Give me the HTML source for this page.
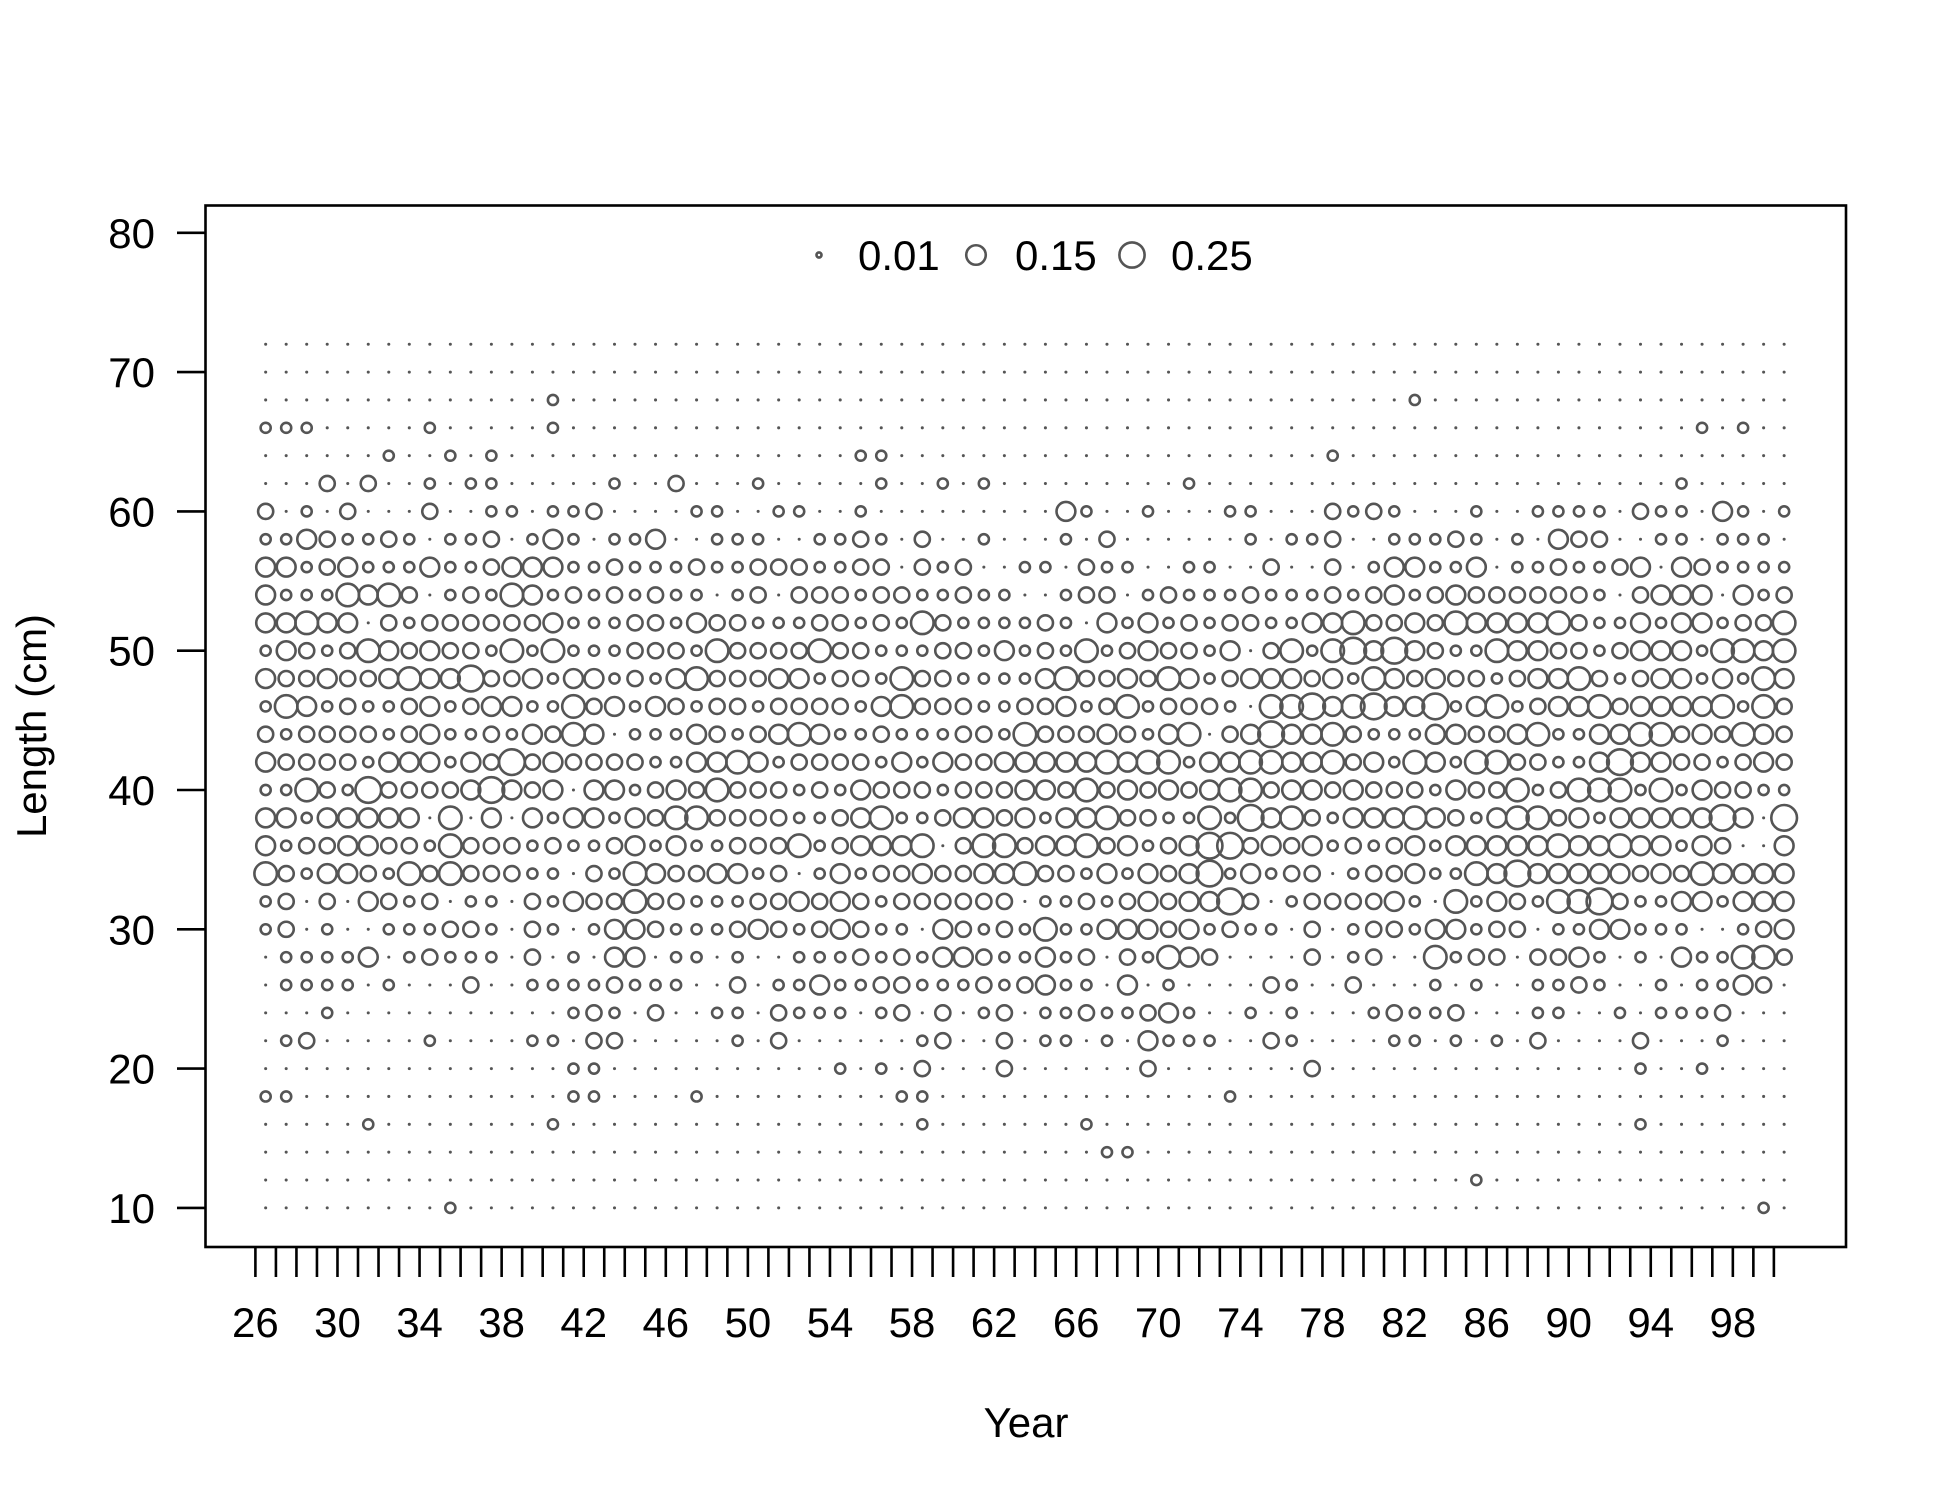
<!DOCTYPE html>
<html>
<head>
<meta charset="utf-8">
<style>
html,body{margin:0;padding:0;background:#fff;}
svg{display:block;font-family:"Liberation Sans",Arial,sans-serif;}
</style>
</head>
<body>
<svg id="chart" width="1950" height="1500" viewBox="0 0 1950 1500" xmlns="http://www.w3.org/2000/svg">
  <rect x="0" y="0" width="1950" height="1500" fill="#fff"/>
  <rect x="205.5" y="205.5" width="1640.5" height="1041.5" fill="none" stroke="#000" stroke-width="2.6"/>
  <g id="yaxis"></g>
  <g id="xaxis"></g>
  <g id="bubbles"></g>
  <g id="legend"></g>
  <text x="0" y="0" transform="translate(46,726) rotate(-90)" text-anchor="middle" font-size="42">Length (cm)</text>
  <text x="1026" y="1437" text-anchor="middle" font-size="42">Year</text>
</svg>
<script>
// ---- data ----
const years = [];
for (let y = 26; y <= 100; y++) years.push(y);
const lengths = [72,70,68,66,64,62,60,58,56,54,52,50,48,46,44,42,40,38,36,34,32,30,28,26,24,22,20,18,16,14,12,10];
const levelValues = [0.002, 0.04, 0.09, 0.14, 0.2, 0.26];
const yTicks = [10,20,30,40,50,60,70,80];
const xTickLabels = [26,30,34,38,42,46,50,54,58,62,66,70,74,78,82,86,90,94,98];
const legendValues = [0.01, 0.15, 0.25];
const legendLabels = ["0.01","0.15","0.25"];
const Z19 = "0000000000000000000", Z18 = "000000000000000000";
const rowCodes = [
  Z19+Z19+Z19+Z18,
  Z19+Z19+Z19+Z18,
  "0000000000000010000"+Z19+"0000000000000000001"+Z18,
  "1110000010000010000"+Z19+Z19+"000000000000010100",
  "0000001001010000000"+"0000000000110000000"+"0000000000000010000"+Z18,
  "0002020010110000010"+"0200010000010010100"+"0000000100000000000"+"000000000000100000",
  "2010200020011011200"+"0011001100100000000"+"0310010001100021210"+"001001111021103101",
  "1132112101120131011"+"3001110011210200100"+"0102000000101120011"+"121010322001101110",
  "3312311131123331121"+"1121122211220212001"+"1021100110020020133"+"113011211230321111",
  "3111434201214312121"+"2110120222122112110"+"0122012111211121231"+"232222221023330312",
  "3343302122222231112"+"2132211122121421111"+"2103131212211334223"+"243333421131331224",
  "1321243232214141112"+"2214222242211122131"+"2141232213024145353"+"211433221233314434",
  "3223223433522313312"+"1342223312214221111"+"3422324312333231432"+"322123342123313143",
  "1431211231233114231"+"3212212222134222112"+"2312412221044534533"+"513412334233334142",
  "2122221231121324301"+"1132123431121112214"+"2223213402353342111"+"332234113344232432",
  "3222213331325232222"+"1133431222213132233"+"3334344133443342314"+"314422113533221232",
  "1142152222353230331"+"2324222121322212223"+"3242323234423323222"+"132241244414132211",
  "3313333304030313313"+"2442222112341123323"+"1334221141534213334"+"321344231333335305",
  "3122332214222121123"+"1311222412333402442"+"3342312355232312123"+"133333433433132003",
  "4213321424222110214"+"3223312013122322334"+"2213132351312201223"+"114353333323243333",
  "1202032120110213224"+"2211122323212222220"+"1121232335201222231"+"041321445211331333",
  "1201001112210210133"+"2111232123211032121"+"4113332312110201221"+"331220113311100123",
  "0111130121110201033"+"0110100111212133211"+"3120214320000201200"+"412202231010311442",
  "0111101000200111121"+"1100201131122111212"+"3110301000021002000"+"101001121001011320",
  "0001000000000001210"+"2001102111012020120"+"1121123100101000121"+"120001100101112000",
  "0120000010000110220"+"0000102000000120020"+"1101031110021000011"+"010102000020001000",
  "0000000000000001100"+"0000000001010200020"+"0000020000000200000"+"000000000010010000",
  "1100000000000001100"+"0010000000001100000"+"0000000001000000000"+Z18,
  "0000010000000010000"+"0000000000000100000"+"0010000000000000000"+"000000000010000000",
  Z19+Z19+"0001100000000000000"+Z18,
  Z19+Z19+Z19+"001000000000000000",
  "0000000001000000000"+Z19+Z19+"000000000000000010"
];

// ---- scales ----
const NS = "http://www.w3.org/2000/svg";
function xScale(year){ return 255.4 + (year - 26) * 20.52; }
function yScale(len){ return 232.8 + (80 - len) * 13.93; }
function rScale(v){ return 25.2 * Math.sqrt(v); }
function mk(tag, attrs, parent){
  const e = document.createElementNS(NS, tag);
  for (const k in attrs) e.setAttribute(k, attrs[k]);
  parent.appendChild(e);
  return e;
}

// ---- y axis ----
const yaxis = document.getElementById('yaxis');
yTicks.forEach(v => {
  const t = mk('line', {x1:177, x2:205.5, y1:yScale(v), y2:yScale(v), stroke:'#000', 'stroke-width':2.6}, yaxis);
  
  
  const lb = mk('text', {x:155, y:yScale(v)+15, 'text-anchor':'end', 'font-size':42}, yaxis);
  lb.textContent = String(v);
  
  
});

// ---- x axis ----
const xaxis = document.getElementById('xaxis');
years.forEach(y => {
  const t = mk('line', {x1:xScale(y), x2:xScale(y), y1:1247, y2:1277, stroke:'#000', 'stroke-width':2.6}, xaxis);
  
  
});
xTickLabels.forEach(y => {
  const lb = mk('text', {x:xScale(y), y:1337, 'text-anchor':'middle', 'font-size':42}, xaxis);
  lb.textContent = String(y);
  
  
});

// ---- bubbles ----
const bubbles = document.getElementById('bubbles');
lengths.forEach((len, ri) => {
  const codes = (rowCodes[ri] || '').padEnd(years.length, '0');
  years.forEach((yr, ci) => {
    const lvl = parseInt(codes[ci], 10) || 0;
    const v = levelValues[lvl];
    const r = rScale(v);
    const c = mk('circle', {cx:xScale(yr + 0.5), cy:yScale(len), r:r,
      fill: lvl === 0 ? '#555' : 'none', stroke:'#555', 'stroke-width': lvl === 0 ? 0.8 : 2.6}, bubbles);
    
    
  });
});

// ---- legend ----
const legend = document.getElementById('legend');
const legendX = [819, 976, 1132];
legendValues.forEach((v, i) => {
  const c = mk('circle', {cx:legendX[i], cy:255, r:rScale(v), fill:'none', stroke:'#555', 'stroke-width':2.6}, legend);
  
  
  const t = mk('text', {x:legendX[i] + 39, y:270, 'font-size':42}, legend);
  t.textContent = legendLabels[i];
  
  
});
</script>
</body>
</html>
